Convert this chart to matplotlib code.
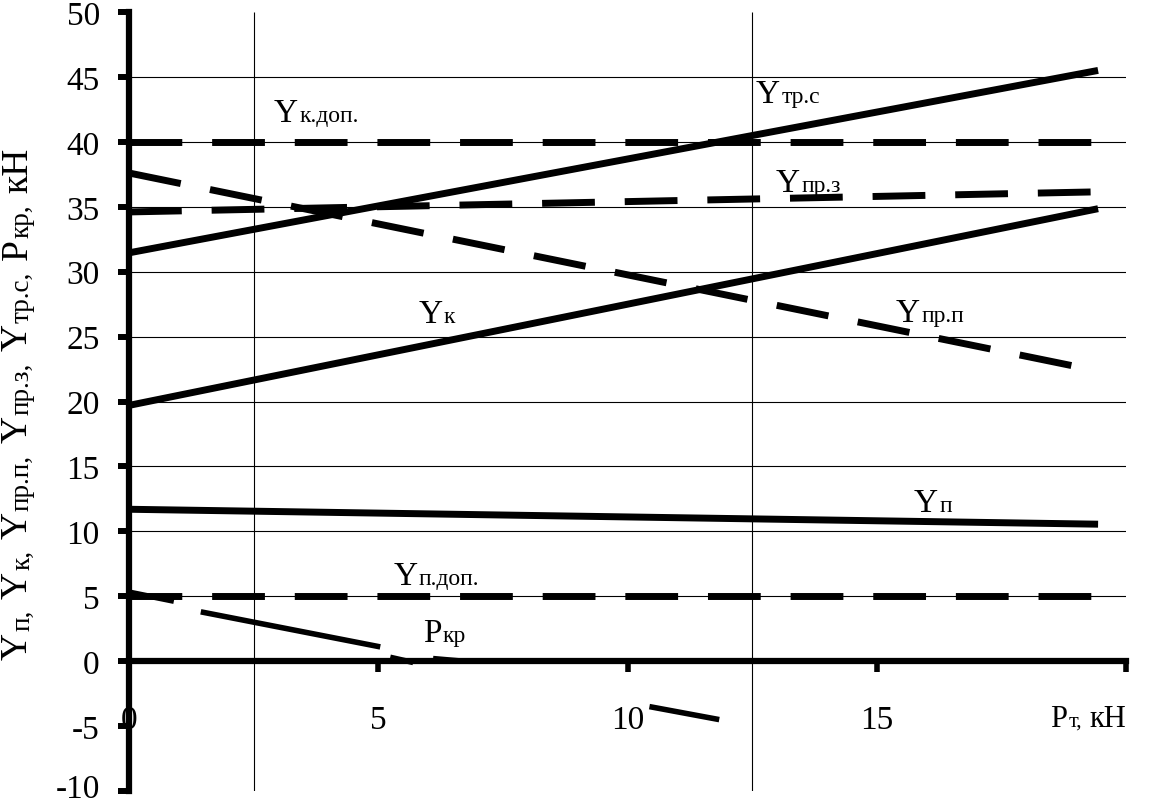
import matplotlib
matplotlib.use('Agg')
import matplotlib.pyplot as plt
import matplotlib.transforms as mtransforms
import numpy as np

plt.rcParams['font.family'] = ['Liberation Serif', 'DejaVu Serif']
plt.rcParams['axes.unicode_minus'] = False

# values (Pт, кН on x)
x_end = 19.44
line_x = [0, x_end]
y_tr_s = [31.45, 45.5]
y_k = [19.7, 34.85]
y_p = [11.7, 10.55]
y_k_dop = [40, 40]
y_p_dop = [5, 5]
y_pr_z = [34.6, 36.15]
y_pr_p = [37.6, 22.35]

# Pкр is only partly visible in the original, nan = gap
pkr_x = [0, 0.9, np.nan, 1.44, 5.04, np.nan, 5.24, 5.7, np.nan, 6.1, 6.7, np.nan, 10.44, 11.84]
pkr_y = [5.32, 4.62, np.nan, 3.8, 1.1, np.nan, 0.3, -0.1, np.nan, 0.2, 0.0, np.nan, -3.5, -4.5]

xticks = [0, 5, 10, 15, 20]
xtick_labels = ['0', '5', '10', '15', '']
yticks = list(range(-10, 55, 5))
grid_y = [5, 10, 15, 20, 25, 30, 35, 40, 45]
grid_x = [2.5, 12.5]

# (x, y, big letter, small suffix)
curve_labels = [
    (2.9, 41.6, 'Y', 'к.доп.'),
    (12.58, 43.1, 'Y', 'тр.с'),
    (12.98, 36.2, 'Y', 'пр.з'),
    (5.8, 26.1, 'Y', 'к'),
    (15.38, 26.2, 'Y', 'пр.п'),
    (15.74, 11.57, 'Y', 'п'),
    (5.3, 5.94, 'Y', 'п.доп.'),
    (5.9, 1.54, 'P', 'кр'),
]

ylabel_parts = [('Y', 27, 0), ('п,', 19.5, 1), ('Y', 27, 8), ('к,', 19.5, 1),
                ('Y', 27, 8), ('пр.п,', 19.5, 1), ('Y', 27, 8), ('пр.з,', 19.5, 1),
                ('Y', 27, 8), ('тр.с,', 19.5, 1), ('P', 27, 8), ('кр,', 19.5, 1),
                ('кН', 27, 8)]

fig = plt.figure(figsize=(11.49, 8.03), dpi=100)
ax = fig.add_axes([129 / 1149, 11 / 803, (1126 - 129) / 1149, 779 / 803])
ax.set_xlim(0, 20)
ax.set_ylim(-10, 50)

ax.spines['top'].set_visible(False)
ax.spines['right'].set_visible(False)
ax.spines['bottom'].set_position(('data', 0))
ax.spines['left'].set_linewidth(4.5)
ax.spines['bottom'].set_linewidth(4.5)
ax.spines['left'].set_zorder(5)
ax.spines['bottom'].set_zorder(5)

ax.set_xticks(xticks)
ax.set_xticklabels(xtick_labels)
ax.set_yticks(yticks)
ax.tick_params(axis='y', direction='out', length=8, width=4.3, pad=13, labelsize=24)
ax.tick_params(axis='x', direction='out', length=8, width=4.0, pad=23, labelsize=24)

# lift the bottom tick label a little so it stays inside the picture
lowest = ax.get_yticklabels()[0]
lowest.set_transform(lowest.get_transform() +
                     mtransforms.ScaledTranslation(0, 4 / 72, fig.dpi_scale_trans))

ax.hlines(grid_y, 0, 20, color='k', lw=0.8, zorder=1)
ax.vlines(grid_x, -10, 50, color='k', lw=0.8, zorder=1)

dash = (0, (7.6, 4.3))
for ys in [y_tr_s, y_k, y_p]:
    ax.plot(line_x, ys, color='k', lw=5, solid_capstyle='butt', zorder=3)
for ys in [y_k_dop, y_p_dop, y_pr_z, y_pr_p]:
    ax.plot(line_x, ys, color='k', lw=5, ls=dash, dash_capstyle='butt', zorder=3)
ax.plot(pkr_x, pkr_y, color='k', lw=4, solid_capstyle='butt', zorder=3)

for x, y, head, tail in curve_labels:
    t = ax.text(x, y, head, fontsize=24, ha='left', va='baseline', zorder=6)
    ax.annotate(tail, xy=(1, 0), xycoords=t, xytext=(1, 1.5), textcoords='offset points',
                fontsize=17, ha='left', va='bottom', zorder=6)

# x axis caption
t = ax.text(18.48, -5.0, 'P', fontsize=22, ha='left', va='baseline')
t = ax.annotate('т,', xy=(1, 0), xycoords=t, xytext=(1, 1.5), textcoords='offset points',
                fontsize=16, ha='left', va='bottom')
ax.annotate('кН', xy=(1, 0), xycoords=t, xytext=(5, -1.5), textcoords='offset points',
            fontsize=22, ha='left', va='bottom')

# rotated y caption, built piece by piece
prev = fig.text(35 / 1149, 143 / 803, ylabel_parts[0][0], fontsize=ylabel_parts[0][1],
                rotation=90, ha='right', va='bottom')
for txt, size, gap in ylabel_parts[1:]:
    prev = ax.annotate(txt, xy=(1, 1), xycoords=prev, xytext=(0, gap), textcoords='offset points',
                       fontsize=size, rotation=90, ha='right', va='bottom', annotation_clip=False)

fig.savefig('out.png', dpi=100)
